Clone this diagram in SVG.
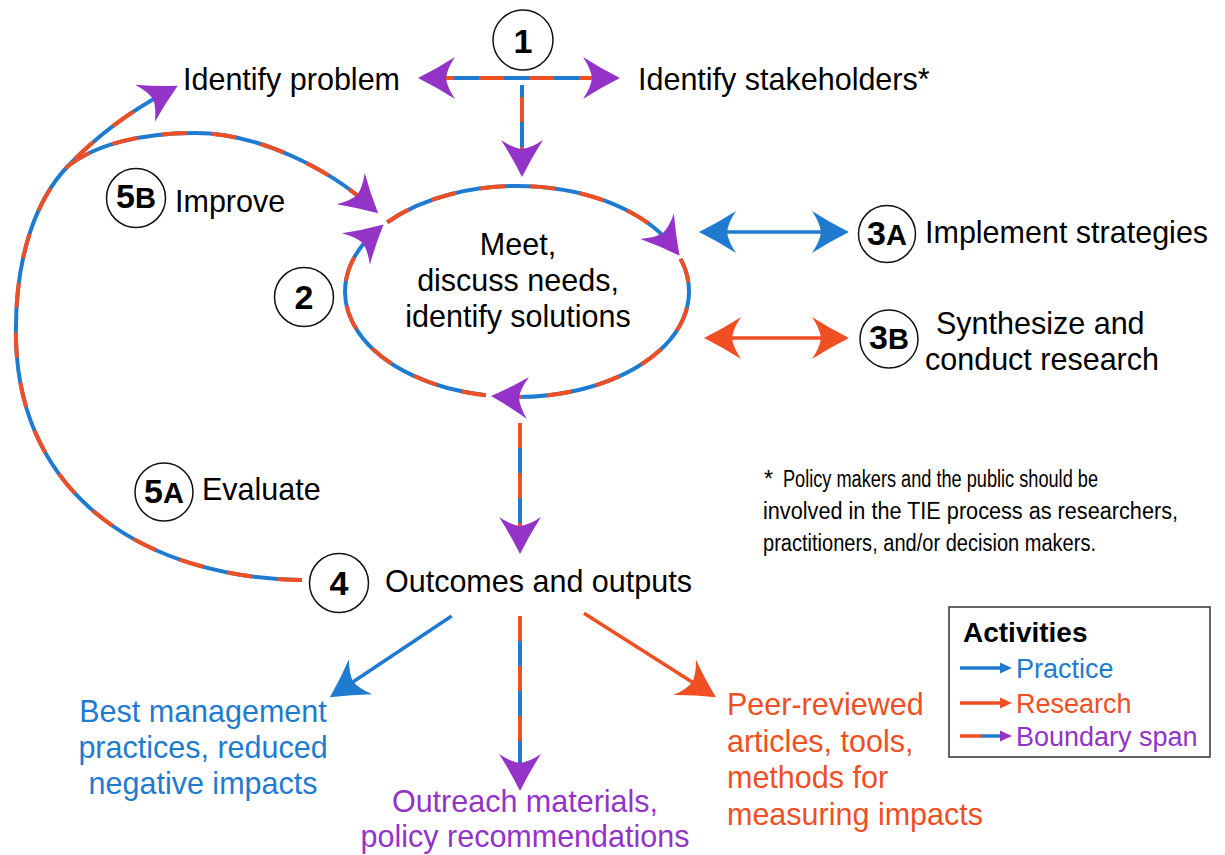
<svg xmlns="http://www.w3.org/2000/svg" width="1225" height="855" viewBox="0 0 1225 855">
<style>
text{font-family:"Liberation Sans",Arial,Helvetica,sans-serif;fill:#000}
.lbl{font-size:30.5px}
.num{font-size:34px;font-weight:bold;text-anchor:middle}
.let{font-size:29px}
.nc{fill:#fff;stroke:#111;stroke-width:1.5}
.bb{fill:none;stroke:#1e7bd0;stroke-width:4}
.rd{fill:none;stroke:#f04e23;stroke-width:4;stroke-dasharray:25 25}
.pb{fill:none;stroke:#1e7bd0;stroke-width:3.5}
.pr{fill:none;stroke:#f04e23;stroke-width:3.5}
.tb{fill:#1e7bd0}
.tr{fill:#f04e23}
.tp{fill:#9333c7}
.foot{font-size:23px}
</style>
<defs>
<marker id="mp" viewBox="-30 -25 45 50" refX="0" refY="0" markerWidth="45" markerHeight="50" markerUnits="userSpaceOnUse" orient="auto-start-reverse" overflow="visible">
<path d="M11,0 Q-9,-10 -26,-21 Q-18,-9 -17,0 Q-18,9 -26,21 Q-9,10 11,0Z" fill="#9333c7"/>
</marker>
<marker id="mb" viewBox="-30 -25 45 50" refX="0" refY="0" markerWidth="45" markerHeight="50" markerUnits="userSpaceOnUse" orient="auto-start-reverse" overflow="visible">
<path d="M11,0 Q-9,-10 -26,-21 Q-18,-9 -17,0 Q-18,9 -26,21 Q-9,10 11,0Z" fill="#1e7bd0"/>
</marker>
<marker id="mr" viewBox="-30 -25 45 50" refX="0" refY="0" markerWidth="45" markerHeight="50" markerUnits="userSpaceOnUse" orient="auto-start-reverse" overflow="visible">
<path d="M11,0 Q-9,-10 -26,-21 Q-18,-9 -17,0 Q-18,9 -26,21 Q-9,10 11,0Z" fill="#f04e23"/>
</marker>
</defs>
<rect width="1225" height="855" fill="#fff"/>

<g id="connectors">
  <path class="bb" d="M429 78 L609 78"/>
  <path class="rd" d="M429 78 L609 78" marker-start="url(#mp)" marker-end="url(#mp)"/>
  <path class="bb" d="M522 85 L522 166"/>
  <path class="rd" d="M522 85 L522 166" stroke-dashoffset="-12" marker-end="url(#mp)"/>
  <path class="bb" d="M387.2 222.3 A172 105.5 0 0 1 672.9 246.9"/>
  <path class="rd" d="M387.2 222.3 A172 105.5 0 0 1 672.9 246.9" marker-end="url(#mp)"/>
  <path class="bb" d="M680.6 258.9 A172 105.5 0 0 1 502 396.6"/>
  <path class="rd" d="M680.6 258.9 A172 105.5 0 0 1 502 396.6" marker-end="url(#mp)"/>
  <path class="bb" d="M485.7 395.2 A172 105.5 0 0 1 375.3 231.7"/>
  <path class="rd" d="M485.7 395.2 A172 105.5 0 0 1 375.3 231.7" marker-end="url(#mp)"/>
  <path class="bb" d="M520 423 L520 543"/>
  <path class="rd" d="M520 423 L520 543" marker-end="url(#mp)"/>
  <path class="pb" d="M710 232 L838 232" marker-start="url(#mb)" marker-end="url(#mb)"/>
  <path class="pr" d="M715 338 L838 338" marker-start="url(#mr)" marker-end="url(#mr)"/>
  <path class="bb" d="M302 580 C150 578 20 500 16 340 C14 250 40 195 68 166"/>
  <path class="rd" d="M302 580 C150 578 20 500 16 340 C14 250 40 195 68 166"/>
  <path class="bb" d="M68 166 Q110 122 168 91"/>
  <path class="rd" d="M68 166 Q110 122 168 91" stroke-dashoffset="-10" marker-end="url(#mp)"/>
  <path class="bb" d="M68 166 C95 145 140 133 195 133 C260 133 330 170 370 206"/>
  <path class="rd" d="M68 166 C95 145 140 133 195 133 C260 133 330 170 370 206" marker-end="url(#mp)"/>
  <path class="pb" d="M451.7 616 L339 691.2" marker-end="url(#mb)"/>
  <path class="pr" d="M584 613.3 L706.6 691.3" marker-end="url(#mr)"/>
  <path class="bb" d="M520 616 L520 780"/>
  <path class="rd" d="M520 616 L520 780" marker-end="url(#mp)"/>
</g>

<g id="step1">
  <circle class="nc" cx="523" cy="40" r="30"/>
  <text class="num" x="523" y="53">1</text>
</g>
<g id="identify-problem">
  <text class="lbl" x="183" y="90">Identify problem</text>
</g>
<g id="identify-stakeholders">
  <text class="lbl" x="638" y="90">Identify stakeholders*</text>
</g>

<g id="step2">
  <circle class="nc" cx="304" cy="297" r="29.5"/>
  <text class="num" x="304" y="309">2</text>
</g>
<g id="meet">
  <text class="lbl" text-anchor="middle" x="518" y="255">Meet,</text>
  <text class="lbl" text-anchor="middle" x="518" y="291">discuss needs,</text>
  <text class="lbl" text-anchor="middle" x="518" y="327">identify solutions</text>
</g>

<g id="step3a">
  <circle class="nc" cx="887" cy="234" r="28.5"/>
  <text class="num" x="887" y="245">3<tspan class="let">A</tspan></text>
  <text class="lbl" x="925" y="243">Implement strategies</text>
</g>
<g id="step3b">
  <circle class="nc" cx="889" cy="339" r="29"/>
  <text class="num" x="889" y="349">3<tspan class="let">B</tspan></text>
  <text class="lbl" x="936" y="334">Synthesize and</text>
  <text class="lbl" x="925" y="370">conduct research</text>
</g>

<g id="step4">
  <circle class="nc" cx="339" cy="583" r="29.5"/>
  <text class="num" x="339" y="595">4</text>
  <text class="lbl" x="385" y="592">Outcomes and outputs</text>
</g>

<g id="step5a">
  <circle class="nc" cx="164" cy="492" r="29"/>
  <text class="num" x="164" y="503">5<tspan class="let">A</tspan></text>
  <text class="lbl" x="202" y="500">Evaluate</text>
</g>
<g id="step5b">
  <circle class="nc" cx="136" cy="198" r="29.5"/>
  <text class="num" x="136" y="208">5<tspan class="let">B</tspan></text>
  <text class="lbl" x="175" y="212">Improve</text>
</g>

<g id="footnote">
  <text class="foot" x="764" y="487">*</text>
  <text class="foot" x="783" y="487" textLength="315" lengthAdjust="spacingAndGlyphs">Policy makers and the public should be</text>
  <text class="foot" x="763" y="519" textLength="415" lengthAdjust="spacingAndGlyphs">involved in the TIE process as researchers,</text>
  <text class="foot" x="763" y="551" textLength="333" lengthAdjust="spacingAndGlyphs">practitioners, and/or decision makers.</text>
</g>

<g id="output-practice">
  <text class="lbl tb" text-anchor="middle" x="203" y="722">Best management</text>
  <text class="lbl tb" text-anchor="middle" x="203" y="758">practices, reduced</text>
  <text class="lbl tb" text-anchor="middle" x="203" y="794">negative impacts</text>
</g>
<g id="output-boundary">
  <text class="lbl tp" text-anchor="middle" x="525" y="812">Outreach materials,</text>
  <text class="lbl tp" text-anchor="middle" x="525" y="847">policy recommendations</text>
</g>
<g id="output-research">
  <text class="lbl tr" x="727" y="715">Peer-reviewed</text>
  <text class="lbl tr" x="727" y="752">articles, tools,</text>
  <text class="lbl tr" x="727" y="788">methods for</text>
  <text class="lbl tr" x="727" y="825">measuring impacts</text>
</g>

<g id="legend">
  <rect x="949" y="607" width="261" height="150" fill="#fff" stroke="#333" stroke-width="1.5"/>
  <text x="963" y="642" font-size="28" font-weight="bold">Activities</text>
  <line x1="960" y1="668" x2="1003" y2="668" stroke="#1e7bd0" stroke-width="3.5"/>
  <polygon points="1000,662.5 1012,668 1000,673.5" class="tb"/>
  <text class="tb" x="1016" y="678" font-size="27">Practice</text>
  <line x1="960" y1="703" x2="1003" y2="703" stroke="#f04e23" stroke-width="3.5"/>
  <polygon points="1000,697.5 1012,703 1000,708.5" class="tr"/>
  <text class="tr" x="1016" y="713" font-size="27">Research</text>
  <line x1="960" y1="736" x2="981" y2="736" stroke="#f04e23" stroke-width="3.5"/>
  <line x1="981" y1="736" x2="1003" y2="736" stroke="#1e7bd0" stroke-width="3.5"/>
  <polygon points="1000,730.5 1012,736 1000,741.5" class="tp"/>
  <text class="tp" x="1016" y="746" font-size="27">Boundary span</text>
</g>
</svg>
